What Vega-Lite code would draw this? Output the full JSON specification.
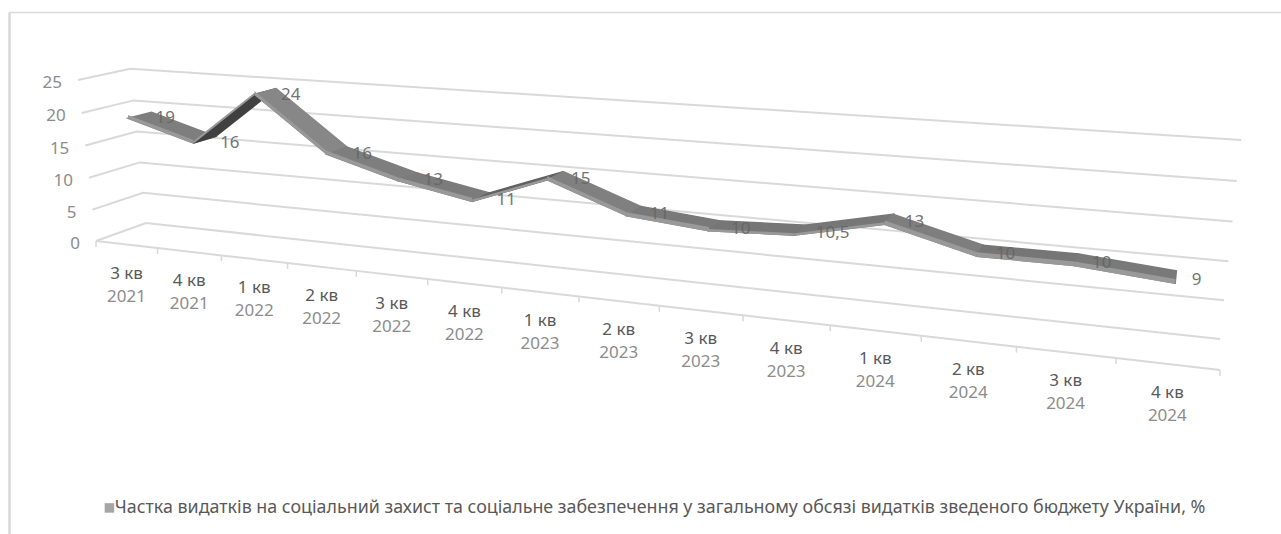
{
  "$schema": "https://vega.github.io/schema/vega-lite/v6.json",
  "width": 1272,
  "height": 522,
  "padding": {"left": 9, "top": 12, "right": 0, "bottom": 0},
  "autosize": {"type": "none"},
  "background": "#ffffff",
  "config": {"view": {"stroke": null}, "text": {"font": "Noto Sans"}},
  "datasets": {
    "quarters": [
      {"position": 0, "period": "3 кв", "year": "2021", "share": 19},
      {"position": 1, "period": "4 кв", "year": "2021", "share": 16},
      {"position": 2, "period": "1 кв", "year": "2022", "share": 24},
      {"position": 3, "period": "2 кв", "year": "2022", "share": 16},
      {"position": 4, "period": "3 кв", "year": "2022", "share": 13},
      {"position": 5, "period": "4 кв", "year": "2022", "share": 11},
      {"position": 6, "period": "1 кв", "year": "2023", "share": 15},
      {"position": 7, "period": "2 кв", "year": "2023", "share": 11},
      {"position": 8, "period": "3 кв", "year": "2023", "share": 10},
      {"position": 9, "period": "4 кв", "year": "2023", "share": 10.5},
      {"position": 10, "period": "1 кв", "year": "2024", "share": 13},
      {"position": 11, "period": "2 кв", "year": "2024", "share": 10},
      {"position": 12, "period": "3 кв", "year": "2024", "share": 10},
      {"position": 13, "period": "4 кв", "year": "2024", "share": 9}
    ],
    "levels": [{"level": 0}, {"level": 5}, {"level": 10}, {"level": 15}, {"level": 20}, {"level": 25}],
    "boundaries": [
      {"q": 0}, {"q": 1}, {"q": 2}, {"q": 3}, {"q": 4}, {"q": 5}, {"q": 6}, {"q": 7},
      {"q": 8}, {"q": 9}, {"q": 10}, {"q": 11}, {"q": 12}, {"q": 13}, {"q": 14}
    ]
  },
  "encoding": {
    "x": {
      "field": "sx", "type": "quantitative",
      "scale": {"domain": [9, 1281], "nice": false, "zero": false},
      "axis": {"orient": "top", "domain": true, "domainColor": "#d9d9d9", "domainWidth": 1.5, "ticks": false, "labels": false, "grid": false, "title": null}
    },
    "y": {
      "field": "sy", "type": "quantitative",
      "scale": {"domain": [534, 12], "nice": false, "zero": false},
      "axis": {"orient": "left", "domain": true, "domainColor": "#d9d9d9", "domainWidth": 2.5, "ticks": false, "labels": false, "grid": false, "title": null}
    }
  },
  "layer": [
    {
      "data": {"name": "levels"},
      "transform": [
        {"calculate": "[0, 1, 2]", "as": "corner"},
        {"flatten": ["corner"]},
        {"calculate": "datum.corner == 2 ? 14 : 0", "as": "q"},
        {"calculate": "datum.corner == 0 ? 0 : 1", "as": "d"},
        {"calculate": "datum.level", "as": "v"},
        {"calculate": "1 - 0.017606*datum.q + 0.04655*datum.d - 0.0012*datum.v", "as": "den"},
        {"calculate": "(96 + 58.806*datum.q + 56.8*datum.d - 0.8136*datum.v)/datum.den", "as": "sx"},
        {"calculate": "(241 + 2.70*datum.q - 7.62*datum.d - 6.536*datum.v)/datum.den", "as": "sy"}
      ],
      "mark": {"type": "line", "color": "#d9d9d9", "strokeWidth": 2},
      "encoding": {"detail": {"field": "level"}, "order": {"field": "corner"}}
    },
    {
      "data": {"name": "boundaries"},
      "transform": [
        {"calculate": "0", "as": "d"},
        {"calculate": "0", "as": "v"},
        {"calculate": "1 - 0.017606*datum.q + 0.04655*datum.d - 0.0012*datum.v", "as": "den"},
        {"calculate": "(96 + 58.806*datum.q + 56.8*datum.d - 0.8136*datum.v)/datum.den", "as": "sx"},
        {"calculate": "(241 + 2.70*datum.q - 7.62*datum.d - 6.536*datum.v)/datum.den", "as": "sy"}
      ],
      "mark": {"type": "line", "color": "#d9d9d9", "strokeWidth": 2},
      "encoding": {"order": {"field": "q"}}
    },
    {
      "data": {"name": "boundaries"},
      "transform": [
        {"calculate": "0", "as": "d"},
        {"calculate": "0", "as": "v"},
        {"calculate": "1 - 0.017606*datum.q + 0.04655*datum.d - 0.0012*datum.v", "as": "den"},
        {"calculate": "(96 + 58.806*datum.q + 56.8*datum.d - 0.8136*datum.v)/datum.den", "as": "sx"},
        {"calculate": "(241 + 2.70*datum.q - 7.62*datum.d - 6.536*datum.v)/datum.den", "as": "sy"},
        {"calculate": "datum.sy + 6", "as": "tickEnd"}
      ],
      "mark": {"type": "rule", "color": "#d9d9d9", "strokeWidth": 1.5},
      "encoding": {"y2": {"field": "tickEnd"}}
    },
    {
      "data": {"name": "quarters"},
      "transform": [
        {"window": [{"op": "lead", "field": "share", "as": "nextShare"}], "sort": [{"field": "position", "order": "ascending"}]},
        {"filter": "isValid(datum.nextShare)"},
        {"calculate": "datum.nextShare - datum.share", "as": "change"},
        {"calculate": "[0, 1, 2, 3]", "as": "corner"},
        {"flatten": ["corner"]},
        {"calculate": "datum.position + 0.5 + ((datum.corner == 1 || datum.corner == 2) ? 1 : 0)", "as": "q"},
        {"calculate": "datum.corner < 2 ? 0.28 : 0.74", "as": "d"},
        {"calculate": "(datum.corner == 1 || datum.corner == 2) ? datum.nextShare : datum.share", "as": "v"},
        {"calculate": "1 - 0.017606*datum.q + 0.04655*datum.d - 0.0012*datum.v", "as": "den"},
        {"calculate": "(96 + 58.806*datum.q + 56.8*datum.d - 0.8136*datum.v)/datum.den", "as": "sx"},
        {"calculate": "(241 + 2.70*datum.q - 7.62*datum.d - 6.536*datum.v)/datum.den", "as": "sy"}
      ],
      "mark": {"type": "line", "strokeWidth": 1.5, "interpolate": "linear-closed"},
      "encoding": {
        "detail": {"field": "position"},
        "order": {"field": "corner"},
        "fill": {
          "field": "change", "type": "quantitative", "legend": null,
          "scale": {"type": "linear", "domain": [-8, -3, 0, 2.5, 4, 8], "range": ["#878787", "#7e7e7e", "#767676", "#777777", "#606060", "#404040"]}
        },
        "stroke": {
          "field": "change", "type": "quantitative", "legend": null,
          "scale": {"type": "linear", "domain": [-8, -3, 0, 2.5, 4, 8], "range": ["#878787", "#7e7e7e", "#767676", "#777777", "#606060", "#404040"]}
        }
      }
    },
    {
      "data": {"name": "quarters"},
      "transform": [
        {"window": [{"op": "lead", "field": "share", "as": "nextShare"}], "sort": [{"field": "position", "order": "ascending"}]},
        {"filter": "isValid(datum.nextShare)"},
        {"calculate": "datum.nextShare > datum.share ? 0.25 : 0.5", "as": "edge"},
        {"calculate": "[0, 1, 2, 3]", "as": "corner"},
        {"flatten": ["corner"]},
        {"calculate": "datum.position + 0.5 + ((datum.corner == 1 || datum.corner == 2) ? 1 : 0)", "as": "q"},
        {"calculate": "0.28", "as": "d"},
        {"calculate": "((datum.corner == 1 || datum.corner == 2) ? datum.nextShare : datum.share) + (datum.corner < 2 ? -0.1 : datum.edge)", "as": "v"},
        {"calculate": "1 - 0.017606*datum.q + 0.04655*datum.d - 0.0012*datum.v", "as": "den"},
        {"calculate": "(96 + 58.806*datum.q + 56.8*datum.d - 0.8136*datum.v)/datum.den", "as": "sx"},
        {"calculate": "(241 + 2.70*datum.q - 7.62*datum.d - 6.536*datum.v)/datum.den", "as": "sy"}
      ],
      "mark": {"type": "line", "strokeWidth": 0, "interpolate": "linear-closed", "fill": "#999999"},
      "encoding": {"detail": {"field": "position"}, "order": {"field": "corner"}}
    },
    {
      "data": {"name": "quarters"},
      "transform": [
        {"calculate": "datum.position + 0.5", "as": "q"},
        {"calculate": "0.5", "as": "d"},
        {"calculate": "datum.share", "as": "v"},
        {"calculate": "1 - 0.017606*datum.q + 0.04655*datum.d - 0.0012*datum.v", "as": "den"},
        {"calculate": "(96 + 58.806*datum.q + 56.8*datum.d - 0.8136*datum.v)/datum.den", "as": "sx"},
        {"calculate": "(241 + 2.70*datum.q - 7.62*datum.d - 6.536*datum.v)/datum.den", "as": "sy"},
        {"calculate": "replace(toString(datum.share), '.', ',')", "as": "valueLabel"}
      ],
      "mark": {"type": "text", "align": "left", "baseline": "middle", "dx": 16, "dy": 3, "fontSize": 17, "font": "Noto Sans", "color": "#666666", "opacity": 0.9},
      "encoding": {"text": {"field": "valueLabel"}}
    },
    {
      "data": {"name": "quarters"},
      "transform": [
        {"calculate": "datum.position + 0.5", "as": "q"},
        {"calculate": "0", "as": "d"},
        {"calculate": "0", "as": "v"},
        {"calculate": "1 - 0.017606*datum.q + 0.04655*datum.d - 0.0012*datum.v", "as": "den"},
        {"calculate": "(96 + 58.806*datum.q + 56.8*datum.d - 0.8136*datum.v)/datum.den", "as": "sx"},
        {"calculate": "(241 + 2.70*datum.q - 7.62*datum.d - 6.536*datum.v)/datum.den", "as": "sy"}
      ],
      "mark": {"type": "text", "align": "center", "baseline": "middle", "dy": 29, "fontSize": 17, "font": "Noto Sans", "color": "#595959"},
      "encoding": {"text": {"field": "period"}}
    },
    {
      "data": {"name": "quarters"},
      "transform": [
        {"calculate": "datum.position + 0.5", "as": "q"},
        {"calculate": "0", "as": "d"},
        {"calculate": "0", "as": "v"},
        {"calculate": "1 - 0.017606*datum.q + 0.04655*datum.d - 0.0012*datum.v", "as": "den"},
        {"calculate": "(96 + 58.806*datum.q + 56.8*datum.d - 0.8136*datum.v)/datum.den", "as": "sx"},
        {"calculate": "(241 + 2.70*datum.q - 7.62*datum.d - 6.536*datum.v)/datum.den", "as": "sy"}
      ],
      "mark": {"type": "text", "align": "center", "baseline": "middle", "dy": 52, "fontSize": 17, "font": "Noto Sans", "color": "#8c8c8c"},
      "encoding": {"text": {"field": "year"}}
    },
    {
      "data": {"name": "levels"},
      "transform": [
        {"calculate": "0", "as": "q"},
        {"calculate": "0", "as": "d"},
        {"calculate": "datum.level", "as": "v"},
        {"calculate": "1 - 0.017606*datum.q + 0.04655*datum.d - 0.0012*datum.v", "as": "den"},
        {"calculate": "(96 + 58.806*datum.q + 56.8*datum.d - 0.8136*datum.v)/datum.den", "as": "sx"},
        {"calculate": "(241 + 2.70*datum.q - 7.62*datum.d - 6.536*datum.v)/datum.den", "as": "sy"}
      ],
      "mark": {"type": "text", "align": "right", "baseline": "middle", "dx": -16, "dy": 3, "fontSize": 17, "font": "Noto Sans", "color": "#8c8c8c"},
      "encoding": {"text": {"field": "level", "type": "quantitative"}}
    },
    {
      "data": {"name": "quarters"},
      "transform": [
        {"calculate": "datum.position + 0.5", "as": "q"},
        {"calculate": "0.5", "as": "d"},
        {"calculate": "datum.share", "as": "v"},
        {"calculate": "1 - 0.017606*datum.q + 0.04655*datum.d - 0.0012*datum.v", "as": "den"},
        {"calculate": "(96 + 58.806*datum.q + 56.8*datum.d - 0.8136*datum.v)/datum.den", "as": "sx"},
        {"calculate": "(241 + 2.70*datum.q - 7.62*datum.d - 6.536*datum.v)/datum.den", "as": "sy"}
      ],
      "mark": {"type": "point", "shape": "square", "filled": true, "opacity": 0},
      "encoding": {
        "color": {
          "datum": "Частка видатків на соціальний захист та соціальне забезпечення у загальному обсязі видатків зведеного бюджету України, %",
          "scale": {"range": ["#a5a5a5"]},
          "legend": {
            "orient": "none", "legendX": 91.5, "legendY": 487, "title": null,
            "symbolType": "square", "symbolSize": 90, "symbolOpacity": 1, "symbolStrokeWidth": 0,
            "labelFont": "Noto Sans", "labelFontSize": 17.85, "labelColor": "#595959", "labelLimit": 1200, "labelOffset": -3.5, "padding": 0
          }
        }
      }
    }
  ]
}
